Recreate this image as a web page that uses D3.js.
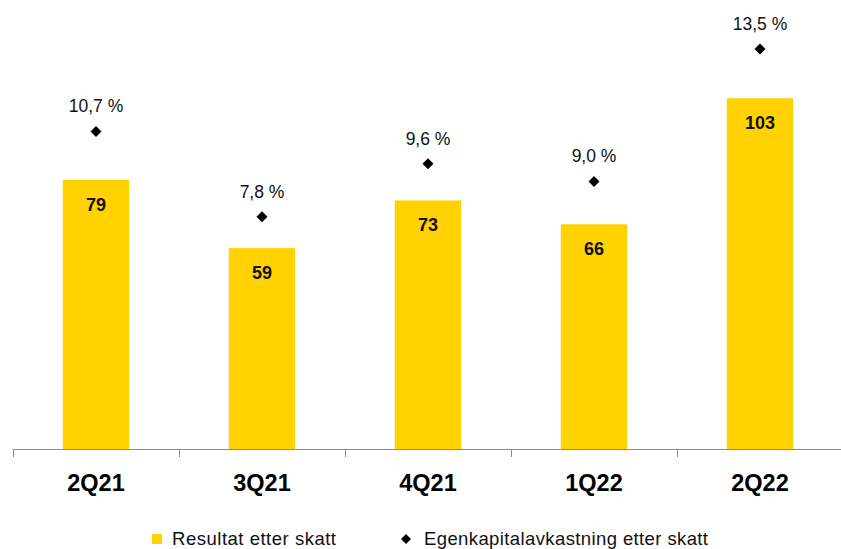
<!DOCTYPE html>
<html>
<head>
<meta charset="utf-8">
<script src="https://cdn.jsdelivr.net/npm/d3@7"></script>
<style>
  html, body { margin: 0; padding: 0; background: #fff; }
  svg { display: block; }
</style>
</head>
<body>
<svg id="chart" width="841" height="549"></svg>
<script>
// Quarterly result after tax (bars) and return on equity after tax (diamonds)
const categories = ["2Q21", "3Q21", "4Q21", "1Q22", "2Q22"];
const resultat = [79, 59, 73, 66, 103];
const egenkapital = [10.7, 7.8, 9.6, 9.0, 13.5];
const legendLabels = ["Resultat etter skatt", "Egenkapitalavkastning etter skatt"];

const fmtPct = v => d3.format(".1f")(v).replace(".", ",") + " %";

const svg = d3.select("#chart");
const yellow = "#FFD200";
const baseY = 449;
const font = "'Liberation Sans', Arial, sans-serif";

const x = d3.scaleBand()
  .domain(categories)
  .range([13, 843])
  .paddingInner(0.6)
  .paddingOuter(0.3);

const y = d3.scaleLinear().domain([0, 129]).range([baseY, baseY - 129 * 3.405]);
const y2 = d3.scaleLinear().domain([0, 15]).range([446, 446 - 15 * 29.4]);

// Bars
svg.append("g").selectAll("rect")
  .data(categories)
  .join("rect")
  .attr("x", d => x(d))
  .attr("y", (d, i) => y(resultat[i]))
  .attr("width", x.bandwidth())
  .attr("height", (d, i) => y(0) - y(resultat[i]))
  .attr("fill", yellow);

// Bar value labels
svg.append("g").selectAll("text")
  .data(categories)
  .join("text")
  .attr("x", d => x(d) + x.bandwidth() / 2)
  .attr("y", (d, i) => y(resultat[i]) + 31)
  .attr("text-anchor", "middle")
  .attr("font-family", font)
  .attr("font-weight", "bold")
  .attr("font-size", 18)
  .attr("fill", "#111")
  .text((d, i) => resultat[i]);

// Category axis
const axis = svg.append("g");
axis.append("line")
  .attr("x1", 13).attr("x2", 841)
  .attr("y1", baseY + 0.5).attr("y2", baseY + 0.5)
  .attr("stroke", "#8c8c8c").attr("stroke-width", 1);
const step = x.step();
const tickXs = categories.map(d => x(d) - step * 0.3)
  .concat([x(categories[categories.length - 1]) + step * 0.7]);
axis.selectAll("line.tick")
  .data(tickXs)
  .join("line")
  .attr("class", "tick")
  .attr("x1", d => Math.round(d) + 0.5).attr("x2", d => Math.round(d) + 0.5)
  .attr("y1", baseY).attr("y2", baseY + 8)
  .attr("stroke", "#8c8c8c").attr("stroke-width", 1);
axis.selectAll("text")
  .data(categories)
  .join("text")
  .attr("x", d => x(d) + x.bandwidth() / 2)
  .attr("y", 491)
  .attr("text-anchor", "middle")
  .attr("font-family", font)
  .attr("font-weight", "bold")
  .attr("font-size", 23.5)
  .attr("fill", "#000")
  .text(d => d);

// Diamonds
const diamond = d3.symbol().type(d3.symbolSquare).size(60);
svg.append("g").selectAll("path")
  .data(categories)
  .join("path")
  .attr("d", diamond)
  .attr("transform", (d, i) => `translate(${x(d) + x.bandwidth() / 2},${y2(egenkapital[i])}) rotate(45)`)
  .attr("fill", "#000");

// Percentage labels
svg.append("g").selectAll("text")
  .data(categories)
  .join("text")
  .attr("x", d => x(d) + x.bandwidth() / 2)
  .attr("y", (d, i) => y2(egenkapital[i]) - 19)
  .attr("text-anchor", "middle")
  .attr("font-family", font)
  .attr("font-size", 17.5)
  .attr("fill", "#111")
  .text((d, i) => fmtPct(egenkapital[i]));

// Legend
const legend = svg.append("g");
legend.append("rect")
  .attr("x", 152).attr("y", 534).attr("width", 10).attr("height", 10)
  .attr("fill", yellow);
legend.append("text")
  .attr("x", 172).attr("y", 545)
  .attr("font-family", font)
  .attr("font-size", 18.5)
  .attr("fill", "#111")
  .attr("textLength", 164)
  .text(legendLabels[0]);
legend.append("path")
  .attr("d", d3.symbol().type(d3.symbolSquare).size(50))
  .attr("transform", "translate(406,539) rotate(45)")
  .attr("fill", "#000");
legend.append("text")
  .attr("x", 424).attr("y", 545)
  .attr("font-family", font)
  .attr("font-size", 18.5)
  .attr("fill", "#111")
  .attr("textLength", 284)
  .text(legendLabels[1]);
</script>
</body>
</html>
